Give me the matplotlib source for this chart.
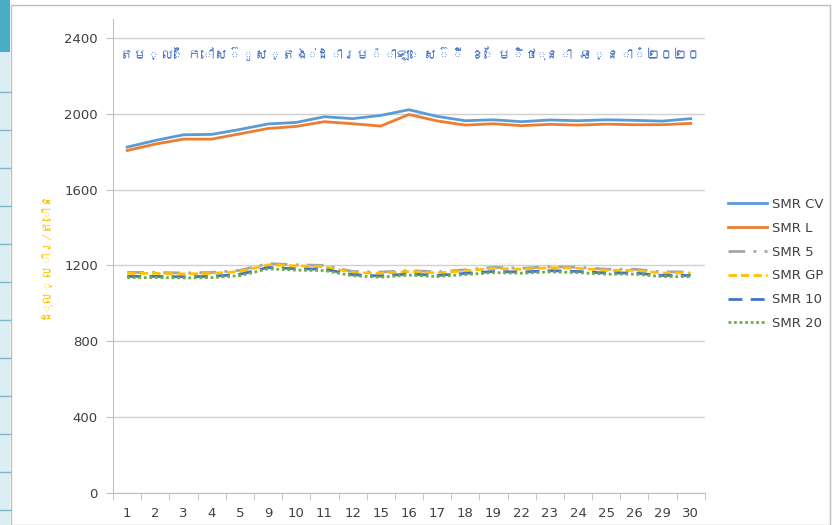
import numpy as np
import matplotlib
matplotlib.use('Agg')
import matplotlib.pyplot as plt
from matplotlib import font_manager
from matplotlib.ft2font import FT2Font
from matplotlib.patches import Rectangle

# trading days of June 2020
days = ['1', '2', '3', '4', '5', '9', '10', '11', '12', '15', '16',
        '17', '18', '19', '22', '23', '24', '25', '26', '29', '30']

smr_cv = [1824, 1859, 1889, 1891, 1917, 1946, 1954, 1984, 1974, 1991, 2021,
          1986, 1963, 1968, 1958, 1967, 1963, 1968, 1965, 1961, 1974]
smr_l = [1806, 1840, 1866, 1866, 1894, 1922, 1933, 1958, 1947, 1935, 1996,
         1962, 1940, 1947, 1937, 1944, 1940, 1945, 1942, 1942, 1949]
smr_5 = [1163, 1163, 1160, 1163, 1174, 1210, 1203, 1200, 1168, 1165, 1173,
         1166, 1177, 1190, 1185, 1193, 1190, 1180, 1180, 1166, 1166]
smr_gp = [1158, 1158, 1155, 1158, 1168, 1203, 1198, 1193, 1163, 1158, 1168,
          1160, 1172, 1184, 1180, 1188, 1185, 1174, 1174, 1160, 1160]
smr_10 = [1142, 1142, 1140, 1142, 1153, 1189, 1182, 1180, 1151, 1144, 1155,
          1147, 1158, 1168, 1165, 1172, 1168, 1160, 1160, 1147, 1147]
smr_20 = [1136, 1136, 1134, 1136, 1146, 1182, 1175, 1173, 1145, 1138, 1149,
          1141, 1152, 1162, 1159, 1166, 1162, 1154, 1154, 1141, 1141]

title = 'តម្លៃកៅស៊ូស្តង់ដារម៉ាឡេស៊ី ខែមិថុនា ឆ្នាំ២០២០'
ylabel = 'ដុល្លារ/តោន'


def find_khmer_font():
    # look for any installed font that has Khmer glyphs
    for path in font_manager.findSystemFonts():
        try:
            cmap = FT2Font(path).get_charmap()
        except Exception:
            continue
        if 0x1780 in cmap and 0x17D2 in cmap:
            return font_manager.FontProperties(fname=path).get_name()
    return None


def fit_text(fig, txt, size_px, vertical=False):
    # no shaping for Khmer in matplotlib, so scale the text to a given size
    r = fig.canvas.get_renderer()
    bb = txt.get_window_extent(renderer=r)
    cur = bb.height if vertical else bb.width
    if cur > 0:
        txt.set_fontsize(txt.get_fontsize() * size_px / cur)


khmer = find_khmer_font()
kfam = [khmer, 'DejaVu Sans'] if khmer else ['DejaVu Sans']

fig = plt.figure(figsize=(8.38, 5.25), dpi=100)
ax = fig.add_axes([0.135, 0.061, 0.706, 0.903])

x = np.arange(len(days))
series = [
    ('SMR CV', smr_cv, '#5B9BD5', '-'),
    ('SMR L', smr_l, '#ED7D31', '-'),
    ('SMR 5', smr_5, '#A5A5A5', (0, (6, 3, 1, 3))),
    ('SMR GP', smr_gp, '#FFC000', (0, (3, 1.5))),
    ('SMR 10', smr_10, '#4472C4', (0, (5, 3))),
    ('SMR 20', smr_20, '#70AD47', (0, (1, 1))),
]
for name, vals, col, ls in series:
    ax.plot(x, vals, color=col, linestyle=ls, lw=2, label=name)

ax.set_xlim(-0.5, len(days) - 0.5)
ax.set_ylim(0, 2500)
ax.set_yticks(range(0, 2401, 400))
ax.set_xticks(x)
ax.set_xticklabels(days)
ax.set_xticks(np.arange(-0.5, len(days), 1), minor=True)
ax.tick_params(axis='x', which='major', length=0, pad=10, labelsize=9.5, colors='#404040')
ax.tick_params(axis='x', which='minor', length=5, color='#BFBFBF', direction='out')
ax.tick_params(axis='y', length=5, color='#BFBFBF', labelsize=9.5, labelcolor='#404040', pad=6)
ax.grid(axis='y', color='#D0D0D0', lw=1)
ax.set_axisbelow(True)
for s in ['top', 'right']:
    ax.spines[s].set_visible(False)
for s in ['left', 'bottom']:
    ax.spines[s].set_color('#BFBFBF')

t1 = fig.text(410 / 838, 1 - 54 / 525, title, family=kfam, fontsize=17,
              fontweight='bold', color='#4472C4', ha='center', va='center')
t2 = fig.text(44 / 838, 1 - 254 / 525, ylabel, family=kfam, fontsize=10,
              color='#FFC000', rotation=90, ha='center', va='center')
fit_text(fig, t1, 580)
fit_text(fig, t2, 130, vertical=True)

leg = ax.legend(loc='center left', bbox_to_anchor=(1.0185, 0.483), frameon=False,
                fontsize=9.5, handlelength=3.0, handletextpad=0.4,
                labelspacing=0.82)
for t in leg.get_texts():
    t.set_color('#404040')

# chart frame and the bit of worksheet on the left
fig.patches.append(Rectangle((11 / 838, 0), 1 - 19 / 838, 1 - 5 / 525,
                             transform=fig.transFigure, fill=False,
                             edgecolor='#BFBFBF', lw=1))
fig.patches.append(Rectangle((0, 0), 10 / 838, 1, transform=fig.transFigure,
                             color='#DAEEF3', lw=0))
fig.patches.append(Rectangle((0, 1 - 52 / 525), 10 / 838, 52 / 525,
                             transform=fig.transFigure, color='#4BACC6', lw=0))
for yy in range(92, 525, 38):
    fig.lines.append(plt.Line2D([0, 10 / 838], [1 - yy / 525] * 2,
                                transform=fig.transFigure, color='#7FB8CC', lw=1))

fig.savefig('out.png', dpi=100)
